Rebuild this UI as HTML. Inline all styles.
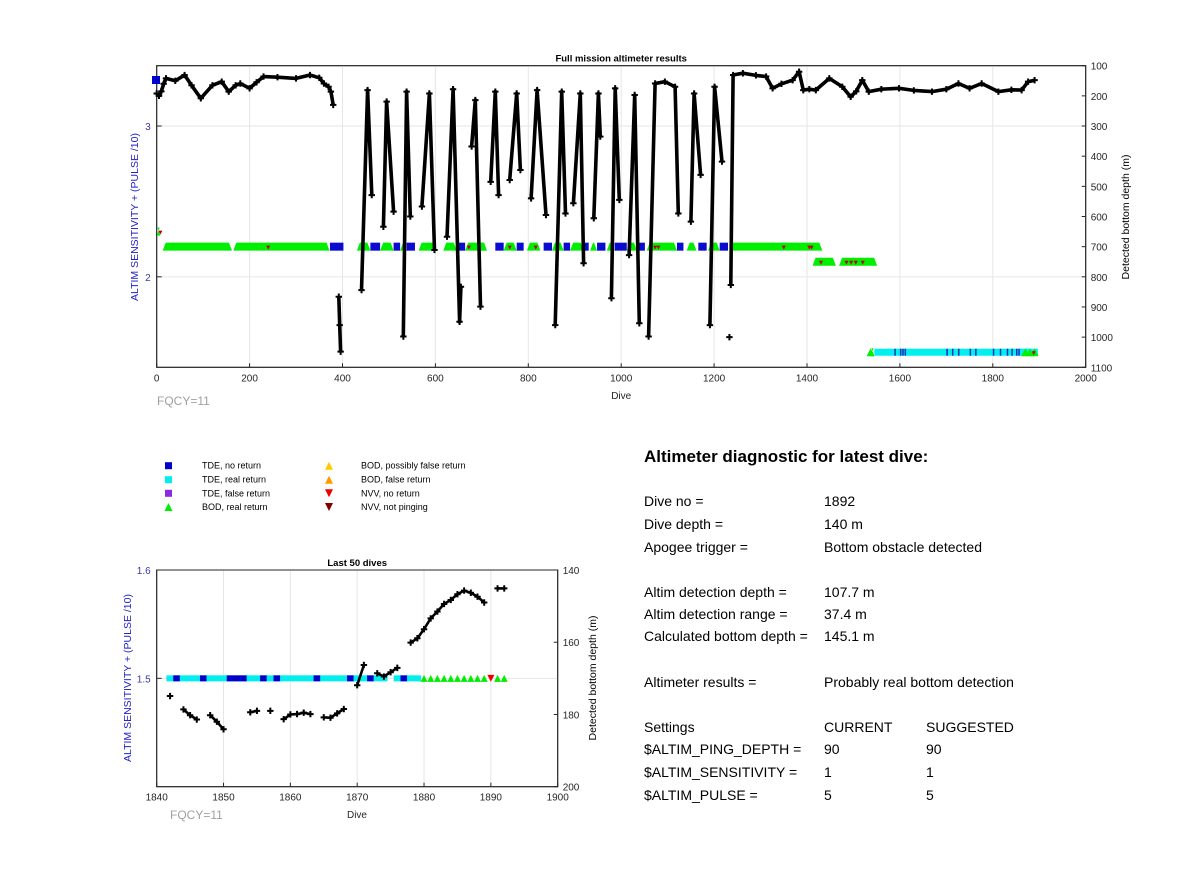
<!DOCTYPE html>
<html><head><meta charset="utf-8"><style>
body{margin:0;background:#fff;font-family:"Liberation Sans",Arial,sans-serif}
svg text{font-family:"Liberation Sans",Arial,sans-serif}
#diag{position:absolute;left:644px;top:0;font-size:14px;color:#000}
#diag div{position:absolute;white-space:nowrap}
</style></head><body>
<svg id="s" width="1200" height="885" viewBox="0 0 1200 885" style="position:absolute;left:0;top:0"></svg>
<div id="diag">
<div style="left:0;top:447px;font-size:17px;font-weight:bold">Altimeter diagnostic for latest dive:</div>
<div style="top:493px">Dive no =</div><div style="left:180px;top:493px">1892</div>
<div style="top:516px">Dive depth =</div><div style="left:180px;top:516px">140 m</div>
<div style="top:539px">Apogee trigger =</div><div style="left:180px;top:539px">Bottom obstacle detected</div>
<div style="top:584px">Altim detection depth =</div><div style="left:180px;top:584px">107.7 m</div>
<div style="top:606px">Altim detection range =</div><div style="left:180px;top:606px">37.4 m</div>
<div style="top:628px">Calculated bottom depth =</div><div style="left:180px;top:628px">145.1 m</div>
<div style="top:674px">Altimeter results =</div><div style="left:180px;top:674px">Probably real bottom detection</div>
<div style="top:719px">Settings</div><div style="left:180px;top:719px">CURRENT</div><div style="left:282px;top:719px">SUGGESTED</div>
<div style="top:741px">$ALTIM_PING_DEPTH =</div><div style="left:180px;top:741px">90</div><div style="left:282px;top:741px">90</div>
<div style="top:764px">$ALTIM_SENSITIVITY =</div><div style="left:180px;top:764px">1</div><div style="left:282px;top:764px">1</div>
<div style="top:787px">$ALTIM_PULSE =</div><div style="left:180px;top:787px">5</div><div style="left:282px;top:787px">5</div>
</div>
<script>
// ===== Top chart data =====
const topDive = [0,5,10,15,20,40,60,75,95,120,140,155,170,180,200,215,230,260,300,330,350,360,370,375,380,null,
392,394,396,null,
441,454,463,null,488,495,510,null,531,538,546,null,571,587,598,null,625,638,652,655,null,
678,686,697,null,719,729,736,null,760,775,783,null,806,819,838,null,858,872,880,null,
897,912,919,null,941,951,955,null,979,987,996,null,1017,1029,1039,null,1059,1073,1094,1116,1123,null,
1150,1157,1171,null,1191,1201,1217,null,1236,1241,1262,1290,1312,1326,1345,1369,1383,1392,1405,1419,1448,1476,1494,1506,1519,1533,1560,1598,1630,1669,1700,1726,1750,1776,1812,1840,1862,1876,1890];
const topDepth = [192,200,185,160,142,150,131,165,208,165,153,186,165,159,175,155,136,138,142,131,140,159,170,186,230,null,
866,960,1048,null,
844,181,529,null,634,219,584,null,998,186,600,null,567,192,711,null,667,178,949,833,null,
368,214,899,null,485,186,529,null,479,192,446,null,540,181,595,null,960,186,590,null,
556,192,755,null,606,192,335,null,871,175,545,null,728,197,954,null,998,159,153,170,590,null,
617,192,462,null,960,170,418,null,827,131,125,132,136,175,160,148,120,181,178,181,142,170,203,185,148,186,178,175,182,186,178,159,175,159,186,180,181,153,148];
const isoDive=[1233], isoDepth=[1000];
// status bands: start dive, end dive, axis value, type
const bandStart=[0,13,165,373,431,460,481,510,524,538,564,617,646,664,689,729,747,775,797,833,851,876,890,919,933,948,969,986,1012,1034,1055,1120,1141,1166,1187,1212,1234,1412,1469,1537,1545];
const bandEnd  =[8,162,372,402,460,481,510,524,538,556,600,646,664,711,711,747,775,790,826,851,876,890,919,930,948,966,986,1012,1034,1051,1120,1134,1162,1184,1212,1230,1433,1462,1551,1545,1897];
const bandVal  =[2.3,2.2,2.2,2.2,2.2,2.2,2.2,2.2,2.2,2.2,2.2,2.2,2.2,2.2,2.2,2.2,2.2,2.2,2.2,2.2,2.2,2.2,2.2,2.2,2.2,2.2,2.2,2.2,2.2,2.2,2.2,2.2,2.2,2.2,2.2,2.2,2.2,2.1,2.1,1.5,1.5];
const bandType =["bod","bod","bod","tde","bod","tde","bod","tde","bod","tde","bod","bod","tde","bod","bod","tde","bod","tde","bod","tde","bod","tde","bod","tde","bod","tde","bod","tde","bod","tde","bod","tde","bod","tde","bod","tde","bod","bod","bod","bod","cyan"];
const tdeLines=[1588,1600,1605,1610,1700,1712,1725,1750,1762,1800,1815,1830,1840,1850,1855];
const greenTop=[1537,1870,1880,1890];
const nvvDive=[8,240,672,760,816,1073,1080,1350,1405,1410,1430,1485,1495,1505,1520,1888];
const nvvVal =[2.3,2.2,2.2,2.2,2.2,2.2,2.2,2.2,2.2,2.2,2.1,2.1,2.1,2.1,2.1,1.5];
// ===== Bottom chart data =====
const lastDive=[1842,1843,1844,1845,1846,1847,1848,1849,1850,1851,1852,1853,1854,1855,1856,1857,1858,1859,1860,1861,1862,1863,1864,1865,1866,1867,1868,1869,1870,1871,1872,1873,1874,1875,1876,1877,1878,1879,1880,1881,1882,1883,1884,1885,1886,1887,1888,1889,1890,1891,1892];
const lastDepth=[174.9,null,178.6,180.2,181.4,null,180.2,182.0,184.1,null,null,null,179.4,179.0,null,179.0,null,181.3,180.0,179.9,179.5,179.9,null,180.8,180.9,179.7,178.5,null,171.9,166.3,null,168.6,169.5,168.3,167.1,null,160.1,158.9,156.4,153.4,151.5,149.4,148.3,146.7,145.7,146.3,147.4,149.0,null,145.1,145.1];
const lastStatus=["c","b","c","c","c","b","c","c","c","b","b","b","c","c","b","c","b","c","c","c","c","c","b","c","c","c","c","b","c","c","b","c","c","n","c","b","c","c","g","g","g","g","g","g","g","g","g","g","r","g","g"];
const topXTicks=[0,200,400,600,800,1000,1200,1400,1600,1800,2000];
const topLTicks=[2,3];
const topRTicks=[100,200,300,400,500,600,700,800,900,1000,1100];
const botXTicks=[1840,1850,1860,1870,1880,1890,1900];
const botLTicks=[1.5,1.6];
const botRTicks=[140,160,180,200];

const S=document.getElementById('s');const NS='http://www.w3.org/2000/svg';
function mk(tag,at,name,parent){const e=document.createElementNS(NS,tag);for(const k in at)e.setAttribute(k,at[k]);


(parent||S).appendChild(e);return e;}
function txt(x,y,s,at,name){const t=mk('text',Object.assign({x:x,y:y,'font-size':10},at||{}),name);t.textContent=s;return t;}
function lin(a,b,c,d){return v=>c+(v-a)*(d-c)/(b-a);}
function tri(x,y,s,up,fill,name){const h=s;const p=up?`${x-s/2},${y+h/2} ${x+s/2},${y+h/2} ${x},${y-h/2}`:`${x-s/2},${y-h/2} ${x+s/2},${y-h/2} ${x},${y+h/2}`;return mk('polygon',{points:p,fill:fill},name);}
function plus(x,y,g){mk('path',{d:`M${x-3.2},${y}h6.4M${x},${y-3.2}v6.4`,stroke:'#000','stroke-width':2},'depth-marker',g);}

function axes(L,R,T,B,xs,xt,yl,lt,yr,rt,title){
 mk('rect',{x:L,y:T,width:R-L,height:B-T,fill:'#fff',stroke:'#262626','stroke-width':1},'plot-area');
 xt.forEach(v=>{const x=xs(v);if(x>L&&x<R)mk('line',{x1:x,x2:x,y1:T,y2:B,stroke:'#e6e6e6'},'x-gridline');
  mk('line',{x1:x,x2:x,y1:B,y2:B-4,stroke:'#262626'},'x-tick');txt(x,B+14,v,{'text-anchor':'middle',fill:'#262626'},'x-tick-label');});
 lt.forEach(v=>{const y=yl(v);mk('line',{x1:L,x2:R,y1:y,y2:y,stroke:'#e6e6e6'},'y-gridline');mk('line',{x1:L,x2:L+5,y1:y,y2:y,stroke:'#262626'},'y-tick');
  txt(L-6,y+4,v,{'text-anchor':'end',fill:'#3a3aa8'},'left-tick-label');});
 rt.forEach(v=>{const y=yr(v);mk('line',{x1:R,x2:R-4,y1:y,y2:y,stroke:'#262626'},'right-tick');txt(R+5,y+4,v,{fill:'#262626'},'right-tick-label');});
 mk('rect',{x:L,y:T,width:R-L,height:B-T,fill:'none',stroke:'#262626','stroke-width':1},'plot-border');
 txt((L+R)/2,T-4,title,{'text-anchor':'middle','font-weight':'bold','font-size':9.5},'chart-title');
}
// ===== Top chart =====
(function(){
 const L=156.7,R=1085.7,T=65.7,B=367.3;
 const xs=lin(0,2000,L,R), yl=lin(3.4,1.4,T,B), yr=lin(100,1100,T,B);
 axes(L,R,T,B,xs,topXTicks,yl,topLTicks,yr,topRTicks,'Full mission altimeter results');
 txt((L+R)/2,399,'Dive',{'text-anchor':'middle',fill:'#262626'},'x-axis-title');
 txt(157,405,'FQCY=11',{fill:'#a0a0a0','font-size':12},'fqcy-label');
 mk('rect',{x:152,y:76,width:8,height:8,fill:'#0000cc'},'initial-tde-marker');
 const g=mk('g',{},'status-bands');
 for(let i=0;i<bandStart.length;i++){const x1=xs(bandStart[i]),x2=xs(bandEnd[i]),y=yl(bandVal[i]);const t=bandType[i];
  if(t=='bod'){mk('polygon',{points:`${x1},${y+4} ${x2},${y+4} ${x2-3},${y-4} ${x1+3},${y-4}`,fill:'#00ee00'},'bod-band',g);}
  else if(t=='tde'){mk('rect',{x:x1,y:y-4,width:x2-x1,height:8,fill:'#0a0ad0'},'tde-no-return-band',g);}
  else if(t=='cyan'){mk('rect',{x:x1,y:y-3.5,width:x2-x1,height:7,fill:'#00f0f0'},'tde-real-band',g);}
 }
 tdeLines.forEach(d=>mk('rect',{x:xs(d),y:yl(1.5)-3.5,width:1.5,height:7,fill:'#1030c0'},'tde-no-return-mark',g));
 greenTop.forEach(d=>tri(xs(d),yl(1.5),8,true,'#00ee00','bod-marker'));
 nvvDive.forEach((d,i)=>tri(xs(d),yl(nvvVal[i])+1,4,false,'#c00000','nvv-marker'));
 const lg=mk('g',{},'depth-series');let dstr='';let pen=false;
 for(let i=0;i<topDive.length;i++){if(topDive[i]===null){pen=false;continue;}const x=xs(topDive[i]),y=yr(topDepth[i]);dstr+=(pen?'L':'M')+x.toFixed(1)+','+y.toFixed(1);pen=true;}
 mk('path',{d:dstr,fill:'none',stroke:'#000','stroke-width':3.6,'stroke-linejoin':'round'},'depth-line',lg);
 for(let i=0;i<topDive.length;i++){if(topDive[i]!==null)plus(xs(topDive[i]),yr(topDepth[i]),lg);}
 isoDive.forEach((d,i)=>plus(xs(d),yr(isoDepth[i]),lg));
 txt(0,0,'ALTIM SENSITIVITY + (PULSE /10)',{fill:'#2222cc','text-anchor':'middle','font-size':10.5,transform:'translate(138,217) rotate(-90)'},'left-axis-title');
 txt(0,0,'Detected bottom depth (m)',{fill:'#000','text-anchor':'middle','font-size':10.5,transform:'translate(1129,217) rotate(-90)'},'right-axis-title');
})();
// ===== Legend =====
(function(){
 const g=mk('g',{},'legend');
 const rows=[465.7,479.7,493.3,507];
 mk('rect',{x:165,y:rows[0]-3.5,width:7,height:7,fill:'#0000cc'},'legend-tde-no-return',g);
 mk('rect',{x:165,y:rows[1]-3.5,width:7,height:7,fill:'#00eeee'},'legend-tde-real',g);
 mk('rect',{x:165,y:rows[2]-3.5,width:7,height:7,fill:'#8a2be2'},'legend-tde-false',g);
 tri(168.5,rows[3],8,true,'#00ee00','legend-bod-real');
 tri(329,rows[0],8,true,'#ffcc00','legend-bod-possibly-false');
 tri(329,rows[1],8,true,'#ff9900','legend-bod-false');
 tri(329,rows[2],8,false,'#ee0000','legend-nvv-no-return');
 tri(329,rows[3],8,false,'#800000','legend-nvv-not-pinging');
 const l1=['TDE, no return','TDE, real return','TDE, false return','BOD, real return'];
 const l2=['BOD, possibly false return','BOD, false return','NVV, no return','NVV, not pinging'];
 rows.forEach((y,i)=>{txt(202,y+3,l1[i],{'font-size':9},'legend-label');txt(361,y+3,l2[i],{'font-size':9},'legend-label');});
})();
// ===== Bottom chart =====
(function(){
 const L=156.7,R=557.7,T=570,B=786.7;
 const xs=lin(1840,1900,L,R), yl=lin(1.6,1.4,T,B), yr=lin(140,200,T,B);
 axes(L,R,T,B,xs,botXTicks,yl,botLTicks,yr,botRTicks,'Last 50 dives');
 txt(357,818,'Dive',{'text-anchor':'middle',fill:'#262626'},'x-axis-title');
 txt(170,819,'FQCY=11',{fill:'#a0a0a0','font-size':12},'fqcy-label');
 const g=mk('g',{},'status-markers');const y=yl(1.5);const w=xs(1)-xs(0);
 lastDive.forEach((d,i)=>{const s=lastStatus[i],x=xs(d);
  if(s=='c')mk('rect',{x:x-w/2-0.3,y:y-3,width:w+0.6,height:6,fill:'#00eeee'},'tde-real-marker',g);
  else if(s=='b'){mk('rect',{x:x-w/2,y:y-3,width:w,height:6,fill:'#00eeee'},'tde-real-marker',g);mk('rect',{x:x-3.5,y:y-3,width:7,height:6,fill:'#0000cc'},'tde-no-return-marker',g);}
 });
 lastDive.forEach((d,i)=>{const s=lastStatus[i],x=xs(d);
  if(s=='g')tri(x,y,7,true,'#00ee00','bod-real-marker');
  if(s=='r')tri(x,y,7,false,'#ee0000','nvv-no-return-marker');});
 const lg=mk('g',{},'depth-series');let dstr='',pen=false;
 lastDive.forEach((d,i)=>{const v=lastDepth[i];if(v===null){pen=false;return;}dstr+=(pen?'L':'M')+xs(d).toFixed(1)+','+yr(v).toFixed(1);pen=true;});
 mk('path',{d:dstr,fill:'none',stroke:'#000','stroke-width':2.6},'depth-line',lg);
 lastDive.forEach((d,i)=>{if(lastDepth[i]!==null)plus(xs(d),yr(lastDepth[i]),lg);});
 txt(0,0,'ALTIM SENSITIVITY + (PULSE /10)',{fill:'#2222cc','text-anchor':'middle','font-size':10.5,transform:'translate(131,678) rotate(-90)'},'left-axis-title');
 txt(0,0,'Detected bottom depth (m)',{fill:'#000','text-anchor':'middle','font-size':10.5,transform:'translate(596,678) rotate(-90)'},'right-axis-title');
})();
</script>
</body></html>
